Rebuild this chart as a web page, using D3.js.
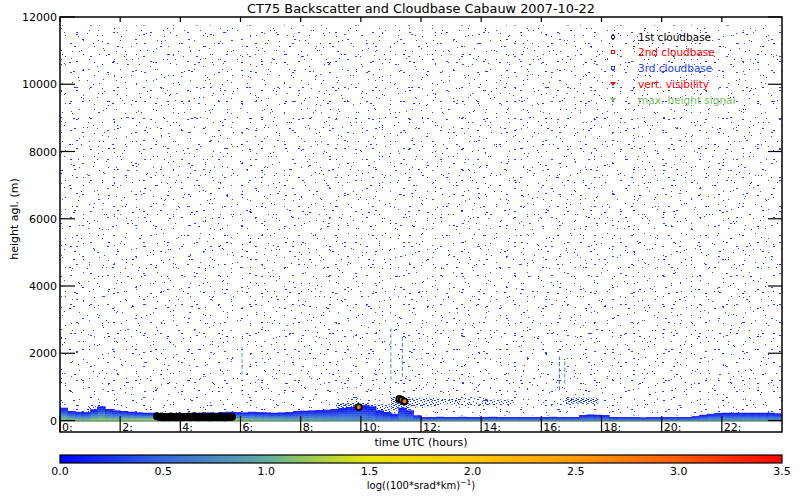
<!DOCTYPE html>
<html><head><meta charset="utf-8">
<script src="https://cdn.jsdelivr.net/npm/d3@7/dist/d3.min.js"></script>
<style>body{margin:0;background:#fff}svg{display:block}text{font-family:"DejaVu Sans",sans-serif;fill:#000}</style>
</head><body><svg id="c" width="800" height="500"></svg>
<script>
// ---------- data ----------
const title = "CT75 Backscatter and Cloudbase Cabauw 2007-10-22";
const hourTicks = [0,2,4,6,8,10,12,14,16,18,20,22];
const heightTicks = [0,2000,4000,6000,8000,10000,12000];
const cbarTicks = [0.0,0.5,1.0,1.5,2.0,2.5,3.0,3.5];
// boundary-layer backscatter, one entry per 0.25 h (0..23.75)
const bandTop = [380,280,260,250,330,420,340,300, 280,260,240,230,230,210,200,210,
  200,220,230,240,230,250,260,250, 240,260,250,240,230,240,250,280,
  290,300,310,320,340,370,400,430, 450,420,300,250,200,380,300,150,
  100,100,110,100,100,110,100,100, 100,110,100,100,100,100,100,100,
  100,110,100,100,100,160,180,170, 160,100,100,100,100,90,100,100,
  100,100,100,100,130,170,200,220, 230,230,230,230,230,230,230,210];
const bandSurf = [1.3,1.3,1.25,1.25,1.3,1.3,1.3,1.3, 1.35,1.4,1.45,1.5,1.55,1.55,1.5,1.5,
  1.5,1.5,1.5,1.5,1.5,1.5,1.45,1.4, 1.3,1.25,1.2,1.2,1.2,1.15,1.1,1.05,
  1.0,1.0,1.0,0.95,0.9,0.9,0.85,0.8, 0.75,0.7,0.7,0.7,0.7,0.75,0.75,0.8,
  0.85,0.85,0.85,0.85,0.85,0.85,0.85,0.85, 0.85,0.85,0.85,0.85,0.85,0.85,0.85,0.85,
  0.85,0.85,0.85,0.85,0.85,0.8,0.8,0.8, 0.8,0.85,0.85,0.85,0.85,0.85,0.85,0.85,
  0.85,0.85,0.85,0.85,0.85,0.85,0.9,0.9, 0.9,0.9,0.9,0.9,0.9,0.9,0.9,0.9];
// elevated aerosol patches: [t0, t1, hBottom, hTop, densityLevel]
const patchT0 = [0.9, 9.2, 10.3, 11.0, 11.6, 12.4, 13.1, 14.0, 16.3, 16.8, 9.5];
const patchT1 = [1.45,10.3, 11.0, 11.6, 12.6, 13.3, 14.2, 15.1, 17.0, 17.9, 10.0];
const patchH0 = [250, 250, 150, 300, 420, 480, 440, 460, 450, 500, 550];
const patchH1 = [460, 520, 480, 700, 680, 640, 700, 620, 600, 680, 700];
const patchLvl = [2, 3, 2, 3, 2, 2, 1, 2, 1, 3, 1];
// vertical streaks: time, bottom, top, value
const streakT = [6.05, 11.0, 11.38, 16.6, 16.78];
const streakH0 = [1350, 1200, 1300, 900, 1100];
const streakH1 = [2250, 2750, 2500, 1900, 1800];
const streakV = [0.9, 0.9, 0.7, 0.5, 0.8];
// first cloudbase detections
const cb1Time = [3.22,3.28,3.33,3.38,3.45,3.5,3.56,3.62,3.68,3.74,3.8,3.86,3.92,3.98,4.04,4.1,4.16,
  4.22,4.28,4.34,4.4,4.46,4.52,4.58,4.64,4.7,4.76,4.82,4.88,4.94,5.0,5.06,5.12,5.18,5.24,5.3,
  5.36,5.42,5.48,5.54,5.6,5.66,5.72, 9.93, 11.28, 11.36, 11.45];
const cb1Height = [130,110,100,120,90,110,100,90,120,100,110,95,100,120,90,110,100,
  105,120,95,110,130,100,90,115,100,125,95,105,110,90,120,100,110,95,100,
  120,105,90,110,100,115,110, 400, 640, 610, 570];
const legendLabels = ["1st cloudbase","2nd cloudbase","3rd cloudbase","vert. visibility","max. height signal"];
const legendColors = ["#000000","#ff0000","#2040ff","#ff0000","#80c060"];

// ---------- layout ----------
const svg = d3.select("#c");
const L=60, R=782, T=17, B=432;
const x = d3.scaleLinear().domain([0,24]).range([L,R]);
const y = d3.scaleLinear().domain([0,12000]).range([420.5,T]);
const col = d3.scaleLinear().domain([0,0.5,1.0,1.25,1.5,2.0,2.5,3.0,3.5])
  .range(["#0000ff","#3466dc","#5fae9f","#a8cf4a","#e8e800","#ffc800","#ff9a00","#ff5a08","#ff0000"]).clamp(true);

const defs = svg.append("defs");
defs.append("clipPath").attr("id","clip").append("rect").attr("x",L).attr("y",T).attr("width",R-L).attr("height",B-T);
function pattern(id,w,h,dots,color){
  const p = defs.append("pattern").attr("id",id).attr("patternUnits","userSpaceOnUse").attr("width",w).attr("height",h);
  dots.forEach(d=>p.append("rect").attr("x",d[0]).attr("y",d[1]).attr("width",d[2]||1).attr("height",1).attr("fill",color));
}
// background noise texture (fixed tiles of differing sizes)
pattern("nA",37,29,[[2,3,2],[15,1],[28,6],[9,11],[33,14,2],[20,17],[5,22],[25,25]],"#2244ff");
pattern("nB",43,41,[[7,2],[31,5,2],[18,9],[40,13],[3,18],[26,21,2],[12,30],[35,36]],"#1a3cf0");
pattern("nC",53,31,[[11,1],[44,4],[29,8,2],[2,12],[50,17],[19,20],[37,25,2],[8,28]],"#2448ff");
pattern("nD",59,47,[[22,3],[49,7,2],[6,9],[35,15],[14,24,2],[55,28],[28,33],[43,41]],"#1636e8");
pattern("nE",67,53,[[4,5],[39,2],[60,11,2],[21,16],[47,23],[9,34,2],[31,40],[55,47]],"#2a4cff");
pattern("d1",9,7,[[0,0,2],[5,2],[8,4],[2,5,2],[6,6]],"#1c46f0");
pattern("d2",7,5,[[0,0,2],[4,1],[6,3],[2,2],[3,4,2]],"#1a44e8");
pattern("d3",5,4,[[0,0,2],[3,1,2],[1,2],[2,3,2]],"#1840e0");

const g = svg.append("g").attr("clip-path","url(#clip)");
["nA","nB","nC","nD","nE"].forEach(id=>g.append("rect").attr("x",L).attr("y",y(11750)).attr("width",R-L)
  .attr("height",y(150)-y(11750)).attr("fill",`url(#${id})`));

// elevated patches
patchT0.forEach((t,i)=>{
  g.append("rect").attr("x",x(t)).attr("y",y(patchH1[i])).attr("width",x(patchT1[i])-x(t))
   .attr("height",y(patchH0[i])-y(patchH1[i])).attr("fill",`url(#d${patchLvl[i]})`);
});
// streaks
streakT.forEach((t,i)=>{
  g.append("line").attr("x1",x(t)).attr("x2",x(t)).attr("y1",y(streakH0[i])).attr("y2",y(streakH1[i]))
   .attr("stroke",col(streakV[i])).attr("stroke-width",1).attr("stroke-dasharray","4,2");
});
// boundary-layer band
const step = 20;
bandTop.forEach((top,i)=>{
  const t0=i*0.25, t1=t0+0.25, s=bandSurf[i];
  for(let h=0; h<top; h+=step){
    const hh=Math.min(step, top-h);
    const f = 1-(h+hh/2)/top;
    const v = 0.08 + (s-0.08)*Math.pow(f,1.3);
    g.append("rect").attr("x",x(t0)).attr("width",x(t1)-x(t0)+0.5)
     .attr("y",y(h+hh)).attr("height",y(h)-y(h+hh)+0.3).attr("fill",col(v));
  }
});
g.append("line").attr("x1",L).attr("x2",R).attr("y1",421).attr("y2",421).attr("stroke","#2f6a50").attr("stroke-width",1);

// cloudbase markers
cb1Time.forEach((t,i)=>{
  g.append("circle").attr("cx",x(t)).attr("cy",y(cb1Height[i])).attr("r",3)
   .attr("fill", i>=43 ? "#f08000" : "#000").attr("stroke","#000").attr("stroke-width",1.8);
});

// ---------- axes ----------
const ax = svg.append("g").attr("stroke","#000").attr("fill","none");
ax.append("rect").attr("x",L).attr("y",T).attr("width",R-L).attr("height",B-T).attr("stroke-width",1.5);
heightTicks.forEach(h=>{
  ax.append("line").attr("x1",L).attr("x2",L+15).attr("y1",y(h)).attr("y2",y(h)).attr("stroke-width",1.2);
  ax.append("line").attr("x1",R-14).attr("x2",R).attr("y1",y(h)).attr("y2",y(h)).attr("stroke-width",1.2);
  svg.append("text").attr("x",L-3).attr("y",y(h)+4).attr("text-anchor","end").attr("font-size",11).text(h);
});
hourTicks.forEach(hr=>{
  ax.append("line").attr("x1",x(hr)).attr("x2",x(hr)).attr("y1",B).attr("y2",B-16).attr("stroke-width",1.2);
  ax.append("line").attr("x1",x(hr)).attr("x2",x(hr)).attr("y1",T).attr("y2",T+5).attr("stroke-width",1.2);
  svg.append("text").attr("x",x(hr)+2).attr("y",B-1.5).attr("font-size",11).text(hr+":");
});
svg.append("text").attr("x",421).attr("y",13).attr("text-anchor","middle").attr("font-size",13)
  .attr("textLength",348).attr("lengthAdjust","spacingAndGlyphs").text(title);
svg.append("text").attr("transform","translate(18,219) rotate(-90)").attr("text-anchor","middle").attr("font-size",11).text("height agl. (m)");
svg.append("text").attr("x",421).attr("y",446).attr("text-anchor","middle").attr("font-size",11).text("time UTC (hours)");

// legend
legendLabels.forEach((lab,i)=>{
  const ly = [37,52,68,84,100][i];
  const c = legendColors[i];
  if(i<3){
    if(i===0) svg.append("circle").attr("cx",613).attr("cy",ly).attr("r",1.8).attr("fill","none").attr("stroke",c).attr("stroke-width",1);
    else svg.append("rect").attr("x",611.5).attr("y",ly-1.5).attr("width",3).attr("height",3).attr("fill","none").attr("stroke",c).attr("stroke-width",1);
  } else {
    svg.append("path").attr("d",`M${610},${ly-2}L${616},${ly-2}L${613},${ly+2}Z`).attr("fill",c);
  }
  svg.append("text").attr("x",638).attr("y",ly+4).attr("font-size",10.5).style("fill",c).text(lab);
});

// ---------- colour bar ----------
const cx = d3.scaleLinear().domain([0,3.5]).range([L,R]);
const grad = defs.append("linearGradient").attr("id","cb").attr("x1","0%").attr("x2","100%");
d3.range(0,3.51,0.125).forEach(v=>grad.append("stop").attr("offset",(v/3.5*100)+"%").attr("stop-color",col(v)));
svg.append("rect").attr("x",L).attr("y",455).attr("width",R-L).attr("height",8).attr("fill","url(#cb)").attr("stroke","#000").attr("stroke-width",1.2);
cbarTicks.forEach(v=>svg.append("text").attr("x",cx(v)).attr("y",475).attr("text-anchor","middle").attr("font-size",11).text(v.toFixed(1)));
const cl = svg.append("text").attr("x",421).attr("y",489).attr("text-anchor","middle").attr("font-size",10);
cl.append("tspan").text("log((100*srad*km)");
cl.append("tspan").attr("dy",-4).attr("font-size",7.5).text("−1");
cl.append("tspan").attr("dy",4).text(")");
</script></body></html>
